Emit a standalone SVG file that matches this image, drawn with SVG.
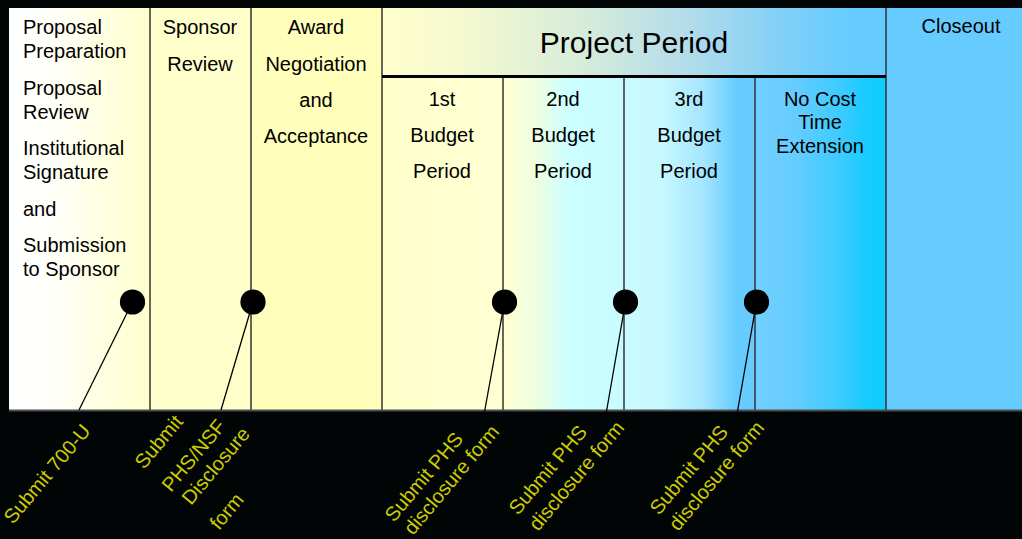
<svg xmlns="http://www.w3.org/2000/svg" width="1022" height="539" viewBox="0 0 1022 539">
<defs>
<linearGradient id="gCol1" x1="0" y1="0" x2="1" y2="0">
<stop offset="0" stop-color="#ffffff"/><stop offset="0.3" stop-color="#fffffa"/><stop offset="1" stop-color="#ffffcc"/>
</linearGradient>
<linearGradient id="gHead" x1="382" y1="0" x2="886" y2="0" gradientUnits="userSpaceOnUse">
<stop offset="0" stop-color="#ffffcc"/><stop offset="0.15" stop-color="#f6f9d0"/><stop offset="0.4" stop-color="#d6ecda"/><stop offset="0.6" stop-color="#b4dcea"/><stop offset="0.8" stop-color="#80d0f8"/><stop offset="0.92" stop-color="#66ccff"/><stop offset="1" stop-color="#66ccff"/>
</linearGradient>
<linearGradient id="gBody" x1="382" y1="0" x2="755" y2="0" gradientUnits="userSpaceOnUse">
<stop offset="0" stop-color="#ffffcc"/><stop offset="0.33" stop-color="#ffffd2"/><stop offset="0.42" stop-color="#ecffe2"/><stop offset="0.5" stop-color="#ccffff"/><stop offset="0.75" stop-color="#c6f8ff"/><stop offset="0.86" stop-color="#a6e6ff"/><stop offset="0.95" stop-color="#66ccff"/><stop offset="1" stop-color="#66ccff"/>
</linearGradient>
<linearGradient id="gNoCost" x1="0" y1="0" x2="1" y2="0">
<stop offset="0" stop-color="#72d0ff"/><stop offset="0.3" stop-color="#66ccff"/><stop offset="0.65" stop-color="#3ccbff"/><stop offset="0.85" stop-color="#18ccff"/><stop offset="1" stop-color="#10ccff"/>
</linearGradient>
<style>
.t{font-family:"Liberation Sans",Arial,sans-serif;font-size:20px;fill:#000}
.c{text-anchor:middle}
.h{font-size:30px}
.lbl{font-family:"Liberation Sans",Arial,sans-serif;font-size:20px;fill:#cccc00}
.div{stroke:#333;stroke-width:1.5;fill:none}
.con{stroke:#000;stroke-width:1.3;fill:none}
.dot{fill:#000}
</style>
</defs>
<rect width="1022" height="539" fill="#020506"/>

<g id="col-proposal">
<rect x="9" y="8" width="141" height="402" fill="url(#gCol1)"/>
<text class="t" x="23" y="34">Proposal</text>
<text class="t" x="23" y="58">Preparation</text>
<text class="t" x="23" y="95">Proposal</text>
<text class="t" x="23" y="119">Review</text>
<text class="t" x="23" y="155">Institutional</text>
<text class="t" x="23" y="179">Signature</text>
<text class="t" x="23" y="216">and</text>
<text class="t" x="23" y="252">Submission</text>
<text class="t" x="23" y="276">to Sponsor</text>
</g>

<g id="col-sponsor">
<rect x="150" y="8" width="101" height="402" fill="#ffffcc"/>
<text class="t c" x="200" y="34">Sponsor</text>
<text class="t c" x="200" y="71">Review</text>
</g>

<g id="col-award">
<rect x="251" y="8" width="131" height="402" fill="#ffffbb"/>
<text class="t c" x="316" y="34">Award</text>
<text class="t c" x="316" y="71">Negotiation</text>
<text class="t c" x="316" y="107">and</text>
<text class="t c" x="316" y="143">Acceptance</text>
</g>

<g id="project-period">
<rect x="382" y="8" width="504" height="68" fill="url(#gHead)"/>
<text class="t c h" x="634" y="53">Project Period</text>
</g>

<g id="budget-bodies">
<rect x="382" y="76" width="373" height="334" fill="url(#gBody)"/>
</g>

<g id="budget1">
<text class="t c" x="442" y="106">1st</text>
<text class="t c" x="442" y="142">Budget</text>
<text class="t c" x="442" y="178">Period</text>
</g>
<g id="budget2">
<text class="t c" x="563" y="106">2nd</text>
<text class="t c" x="563" y="142">Budget</text>
<text class="t c" x="563" y="178">Period</text>
</g>
<g id="budget3">
<text class="t c" x="689" y="106">3rd</text>
<text class="t c" x="689" y="142">Budget</text>
<text class="t c" x="689" y="178">Period</text>
</g>

<g id="no-cost">
<rect x="755" y="76" width="131" height="334" fill="url(#gNoCost)"/>
<text class="t c" x="820" y="106">No Cost</text>
<text class="t c" x="820" y="129">Time</text>
<text class="t c" x="820" y="153">Extension</text>
</g>

<g id="closeout">
<rect x="886" y="8" width="136" height="402" fill="#66ccff"/>
<text class="t c" x="961" y="33">Closeout</text>
</g>

<g id="grid">
<line class="div" x1="150" y1="8" x2="150" y2="410"/>
<line class="div" x1="251" y1="8" x2="251" y2="410"/>
<line class="div" x1="382" y1="8" x2="382" y2="410"/>
<line class="div" x1="503" y1="76" x2="503" y2="410"/>
<line class="div" x1="624" y1="76" x2="624" y2="410"/>
<line class="div" x1="755" y1="76" x2="755" y2="410"/>
<line class="div" x1="886" y1="8" x2="886" y2="410"/>
<line x1="382" y1="76.5" x2="886" y2="76.5" stroke="#000" stroke-width="3"/>
<line x1="9" y1="410.5" x2="1022" y2="410.5" stroke="#4a4f50" stroke-width="2"/>
</g>

<g id="connectors">
<line class="con" x1="132.5" y1="302" x2="79" y2="410"/>
<line class="con" x1="253" y1="302" x2="221" y2="410"/>
<line class="con" x1="504.5" y1="302" x2="483" y2="420"/>
<line class="con" x1="625.5" y1="302" x2="605" y2="420"/>
<line class="con" x1="756.5" y1="302" x2="736" y2="420"/>
</g>

<g id="m1"><circle class="dot" cx="132.5" cy="302" r="12.6"/></g>
<g id="m2"><circle class="dot" cx="253" cy="302" r="12.6"/></g>
<g id="m3"><circle class="dot" cx="504.5" cy="302" r="12.6"/></g>
<g id="m4"><circle class="dot" cx="625.5" cy="302" r="12.6"/></g>
<g id="m5"><circle class="dot" cx="756.5" cy="302" r="12.6"/></g>

<g id="label1">
<text class="lbl" x="13" y="525" transform="rotate(-50 13 525)">Submit 700-U</text>
</g>
<g id="label2">
<text class="lbl" x="144" y="470" transform="rotate(-50 144 470)">Submit</text>
<text class="lbl" x="171" y="493" transform="rotate(-50 171 493)">PHS/NSF</text>
<text class="lbl" x="191" y="506" transform="rotate(-50 191 506)">Disclosure</text>
<text class="lbl" x="219" y="531" transform="rotate(-50 219 531)">form</text>
</g>
<g id="label3">
<text class="lbl" x="394" y="523" transform="rotate(-50 394 523)">Submit PHS</text>
<text class="lbl" x="413" y="536" transform="rotate(-50 413 536)">disclosure form</text>
</g>
<g id="label4">
<text class="lbl" x="518" y="516" transform="rotate(-50 518 516)">Submit PHS</text>
<text class="lbl" x="538" y="532" transform="rotate(-50 538 532)">disclosure form</text>
</g>
<g id="label5">
<text class="lbl" x="659" y="516" transform="rotate(-50 659 516)">Submit PHS</text>
<text class="lbl" x="678" y="532" transform="rotate(-50 678 532)">disclosure form</text>
</g>
</svg>
